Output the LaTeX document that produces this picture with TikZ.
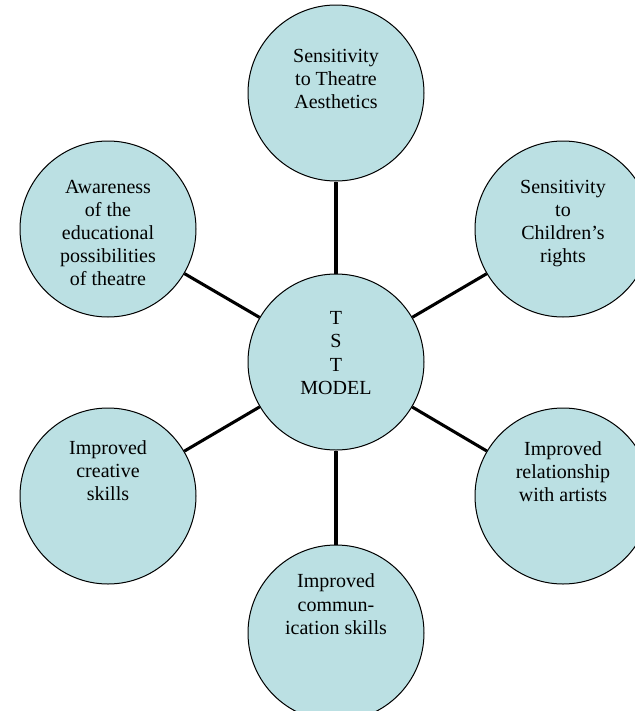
\documentclass[tikz,border=0pt]{standalone}
\usepackage{fontspec}
\setmainfont{Liberation Serif}
\usetikzlibrary{positioning}
\definecolor{tstblue}{RGB}{187,224,227}

\begin{document}
\begin{tikzpicture}[x=0.75pt,y=0.75pt,
  bubble/.style={circle,draw,line width=0.75pt,fill=tstblue,minimum size=132pt,inner sep=0pt},
  caption/.style={align=center,inner sep=0pt,font=\fontsize{15}{17.3}\selectfont},
  spoke/.style={line width=2.3pt}]

% page frame (pixels of the reference, y downwards)
\useasboundingbox (0,0) rectangle (635,-711);
\fill[white] (0,0) rectangle (635,-711);
\clip (0,0) rectangle (635,-711);

% the hub and its six bubbles
\node[bubble] (tst) at (336,-362) {};
\node[bubble] (aes) at (336,-93) {};
\node[bubble] (rights) at (563,-229) {};
\node[bubble] (artists) at (563,-496) {};
\node[bubble] (comm) at (336,-633) {};
\node[bubble] (creative) at (108,-496) {};
\node[bubble] (aware) at (108,-229) {};

% spokes
\draw[spoke] (tst) -- (aes);
\draw[spoke] (tst) -- (rights);
\draw[spoke] (tst) -- (artists);
\draw[spoke] (tst) -- (comm);
\draw[spoke] (tst) -- (creative);
\draw[spoke] (tst) -- (aware);

% texts, hung from the top of each bubble
\node[caption,below=28.5pt of tst.north] (tsttxt) {T\\S\\T\\MODEL};
\node[caption,below=33pt of aes.north] (aestxt) {Sensitivity\\to Theatre\\Aesthetics};
\node[caption,below=29.5pt of rights.north] (rightstxt) {Sensitivity\\to\\Children’s\\rights};
\node[caption,below=25.5pt of artists.north] (artiststxt) {Improved\\relationship\\with artists};
\node[caption,below=22pt of comm.north] (commtxt) {Improved\\commun-\\ication skills};
\node[caption,below=24.5pt of creative.north] (creativetxt) {Improved\\creative\\skills};
\node[caption,below=29.5pt of aware.north] (awaretxt) {Awareness\\of the\\educational\\possibilities\\of theatre};

\end{tikzpicture}
\end{document}
